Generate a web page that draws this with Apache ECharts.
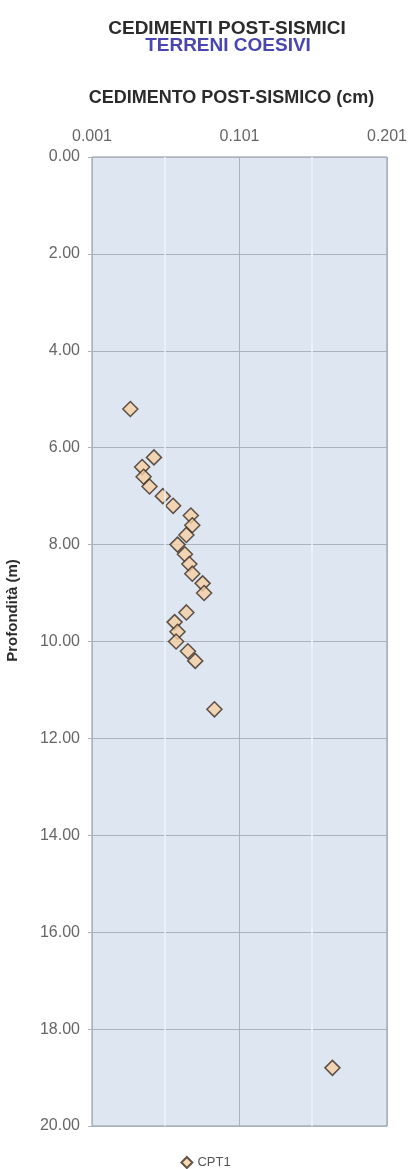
<!DOCTYPE html>
<html>
<head>
<meta charset="utf-8">
<script src="https://cdn.jsdelivr.net/npm/echarts@6/dist/echarts.min.js"></script>
<style>
  html, body { margin: 0; padding: 0; background: #fff; }
  #chart { width: 411px; height: 1169px; }
</style>
</head>
<body>
<div id="chart"></div>
<script>
// cedimento post-sismico (cm) per profondità (m) - CPT1
const cedimento = [
    0.027, 0.043, 0.035, 0.036, 0.040, 0.049, 0.056, 0.068, 0.069, 0.065,
    0.059, 0.064, 0.067, 0.069, 0.076, 0.077, 0.065, 0.057, 0.059, 0.058,
    0.066, 0.071, 0.084, 0.164
];
const profondita = [
    5.2, 6.2, 6.4, 6.6, 6.8, 7.0, 7.2, 7.4, 7.6, 7.8,
    8.0, 8.2, 8.4, 8.6, 8.8, 9.0, 9.4, 9.6, 9.8, 10.0,
    10.2, 10.4, 11.4, 18.8
];
const xTicks = [0.001, 0.101, 0.201];
const xMinorLines = [0.051, 0.151];

const points = cedimento.map((v, i) => [v, profondita[i]]);

const chart = echarts.init(document.getElementById('chart'));
chart.setOption({
    backgroundColor: '#fff',
    animation: false,
    title: [
        {
            text: 'CEDIMENTI POST-SISMICI',
            left: 222,
            textAlign: 'center',
            top: 14,
            textStyle: {
                fontFamily: 'Liberation Sans',
                fontSize: 19,
                fontWeight: 'bold',
                color: '#2b2b2b'
            }
        },
        {
            text: 'TERRENI COESIVI',
            left: 223,
            textAlign: 'center',
            top: 31,
            textStyle: {
                fontFamily: 'Liberation Sans',
                fontSize: 19,
                fontWeight: 'bold',
                color: '#4a46b0'
            }
        }
    ],
    legend: {
        bottom: -5,
        left: 'center',
        itemWidth: 11,
        itemHeight: 11,
        itemGap: 2,
        textStyle: {
            fontFamily: 'Liberation Sans',
            fontSize: 13,
            color: '#555'
        },
        data: ['CPT1']
    },
    grid: {
        left: 92,
        right: 24,
        top: 157,
        bottom: 43,
        outerBoundsMode: 'none',
        containLabel: false,
        show: true,
        backgroundColor: '#dee6f2',
        borderColor: '#8d949e',
        borderWidth: 1
    },
    xAxis: {
        type: 'value',
        position: 'top',
        min: 0.001,
        max: 0.201,
        name: 'CEDIMENTO POST-SISMICO (cm)',
        nameLocation: 'middle',
        nameGap: 50,
        nameMoveOverlap: false,
        nameTextStyle: {
            fontFamily: 'Liberation Sans',
            fontSize: 18,
            fontWeight: 'bold',
            color: '#2b2b2b',
            padding: [0, 16, 0, 0]
        },
        axisLine: { show: false },
        axisTick: { show: false, customValues: xTicks },
        axisLabel: {
            customValues: xTicks,
            margin: 12,
            fontFamily: 'Liberation Sans',
            fontSize: 16,
            color: '#666',
            formatter: (v) => v.toFixed(3)
        },
        splitLine: {
            show: true,
            lineStyle: { color: '#aab2bd', width: 1 }
        }
    },
    yAxis: {
        type: 'value',
        inverse: true,
        min: 0,
        max: 20,
        interval: 2,
        name: 'Profondità (m)',
        nameLocation: 'middle',
        nameGap: 72,
        nameMoveOverlap: false,
        nameTextStyle: {
            fontFamily: 'Liberation Sans',
            fontSize: 15,
            fontWeight: 'bold',
            color: '#2b2b2b',
            padding: [0, 0, 0, 62]
        },
        axisLine: { show: false },
        axisTick: { show: true, length: 4, lineStyle: { color: '#aab2bd' } },
        axisLabel: {
            margin: 12,
            fontFamily: 'Liberation Sans',
            fontSize: 16,
            color: '#666',
            formatter: (v) => v.toFixed(2)
        },
        splitLine: {
            show: true,
            lineStyle: { color: '#aab2bd', width: 1 }
        }
    },
    series: [
        {
            name: 'CPT1',
            type: 'scatter',
            symbol: 'diamond',
            symbolSize: 15,
            data: points,
            itemStyle: {
                color: '#f5cfa3',
                borderColor: '#3a2c22',
                borderWidth: 1.5
            },
            markLine: {
                silent: true,
                symbol: 'none',
                label: { show: false },
                lineStyle: { color: '#eef3fa', type: 'solid', width: 1.5 },
                data: xMinorLines.map((v) => ({ xAxis: v }))
            },
            z: 3
        }
    ]
});
</script>
</body>
</html>
